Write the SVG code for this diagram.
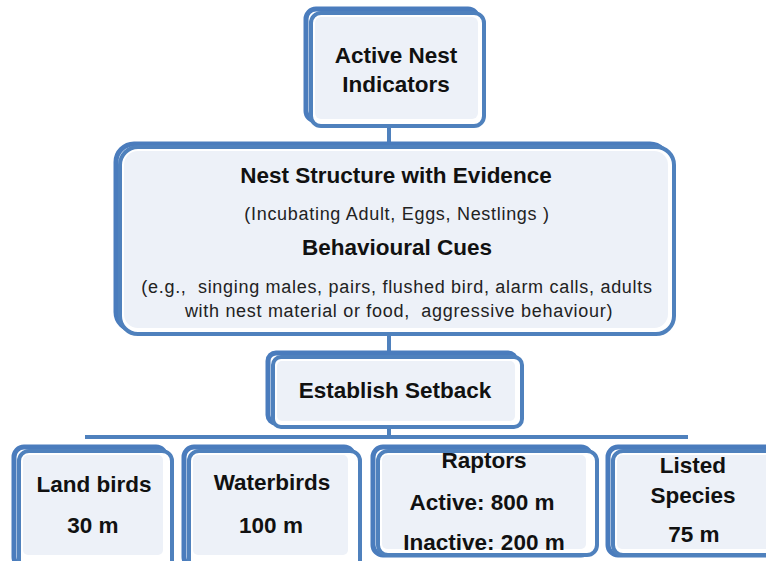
<svg xmlns="http://www.w3.org/2000/svg" width="766" height="561" viewBox="0 0 766 561">
<style>
.sh{fill:none;stroke:#4a7cbd;stroke-width:5}
.bx{fill:#ffffff;stroke:#4f81bd;stroke-width:4}
.in{fill:#edf1f8}
.h{font-family:"Liberation Sans",Arial,sans-serif;font-weight:bold;font-size:22.5px;fill:#111;text-anchor:middle}
.s{font-family:"Liberation Sans",Arial,sans-serif;font-size:18px;letter-spacing:0.7px;fill:#222;text-anchor:middle;white-space:pre}
.c{stroke:#4f81bd;stroke-width:4;fill:none}
</style>
<rect width="766" height="561" fill="#fff"/>
<g id="connectors">
<path class="c" d="M389 127V143M389 335V352M389 428V437M85 437H688"/>
</g>
<g id="active">
<rect class="sh" x="306" y="9" width="172" height="112" rx="10"/>
<rect class="bx" x="311" y="13" width="173" height="113" rx="10"/>
<rect class="in" x="315" y="17" width="163" height="102" rx="6"/>
<text class="h" x="396" y="63">Active Nest</text>
<text class="h" x="396" y="92">Indicators</text>
</g>
<g id="evidence">
<rect class="sh" x="116" y="144" width="552" height="186" rx="18"/>
<rect class="bx" x="120" y="147" width="554" height="187" rx="18"/>
<rect class="in" x="124" y="151" width="544" height="177" rx="14"/>
<text class="h" x="396" y="183">Nest Structure with Evidence</text>
<text class="s" x="397" y="220">(Incubating Adult, Eggs, Nestlings )</text>
<text class="h" x="397" y="255">Behavioural Cues</text>
<text class="s" x="397" y="293" xml:space="preserve">(e.g.,  singing males, pairs, flushed bird, alarm calls, adults</text>
<text class="s" x="399" y="317" xml:space="preserve">with nest material or food,  aggressive behaviour)</text>
</g>
<g id="setback">
<rect class="sh" x="268" y="353" width="248" height="70" rx="8"/>
<rect class="bx" x="273" y="357" width="249" height="70" rx="8"/>
<rect class="in" x="277" y="361" width="238" height="60" rx="5"/>
<text class="h" x="395" y="398">Establish Setback</text>
</g>
<g id="land">
<rect class="sh" x="14" y="447" width="152" height="120" rx="10"/>
<rect class="bx" x="19" y="451" width="153" height="120" rx="10"/>
<rect class="in" x="23" y="455" width="140" height="100" rx="5"/>
<text class="h" x="94" y="492">Land birds</text>
<text class="h" x="93" y="533">30 m</text>
</g>
<g id="water">
<rect class="sh" x="184" y="447" width="170" height="120" rx="10"/>
<rect class="bx" x="189" y="451" width="171" height="120" rx="10"/>
<rect class="in" x="193" y="455" width="155" height="100" rx="5"/>
<text class="h" x="272" y="490">Waterbirds</text>
<text class="h" x="271" y="533">100 m</text>
</g>
<g id="raptors">
<rect class="sh" x="373" y="447" width="218" height="108" rx="10"/>
<rect class="bx" x="378" y="451" width="219" height="104" rx="10"/>
<rect class="in" x="382" y="455" width="204" height="94" rx="5"/>
<text class="h" x="484" y="468">Raptors</text>
<text class="h" x="482" y="510">Active: 800 m</text>
<text class="h" x="484" y="550">Inactive: 200 m</text>
</g>
<g id="listed">
<rect class="sh" x="608" y="447" width="170" height="108" rx="10"/>
<rect class="bx" x="613" y="451" width="171" height="104" rx="10"/>
<rect class="in" x="617" y="455" width="160" height="94" rx="5"/>
<text class="h" x="693" y="473">Listed</text>
<text class="h" x="693" y="503">Species</text>
<text class="h" x="694" y="542">75 m</text>
</g>
</svg>
